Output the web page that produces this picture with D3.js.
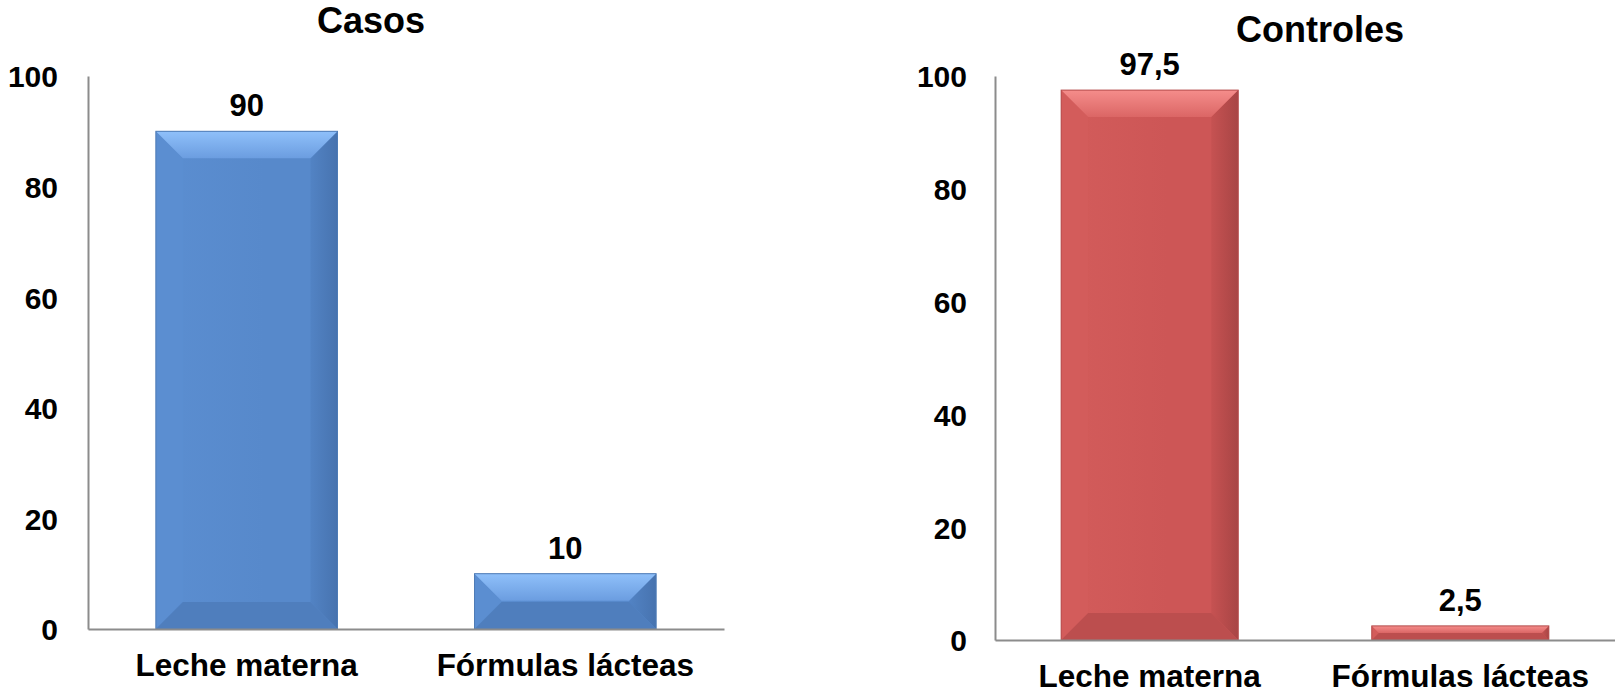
<!DOCTYPE html>
<html>
<head>
<meta charset="utf-8">
<script src="https://cdn.jsdelivr.net/npm/d3@7/dist/d3.min.js"></script>
<style>
  html, body { margin: 0; padding: 0; background: #fff; }
  svg { display: block; }
  text { font-family: "Liberation Sans", Arial, sans-serif; font-weight: bold; fill: #000; }
</style>
</head>
<body>
<script>
// ---- data ----
const categories = ["Leche materna", "Fórmulas lácteas"];
const casosValues = [90, 10];
const controlesValues = [97.5, 2.5];
const yTickValues = [0, 20, 40, 60, 80, 100];
const panelTitles = ["Casos", "Controles"];

const W = 1615, H = 693;
const svg = d3.select("body").append("svg").attr("width", W).attr("height", H);
const defs = svg.append("defs");

const palettes = {
  blue: { main: "#5789cb", top0: "#8fc0fa", top1: "#6b9de0", left: "#5b8ed1", right0: "#5283c4", right1: "#4773af", bottom: "#4f7ebd", stroke: "#4f7cb6" },
  red:  { main: "#cd5656", top0: "#f58d8b", top1: "#db6665", left: "#d35c5b", right0: "#c65252", right1: "#a84545", bottom: "#bc4e4e", stroke: "#b44c4c" }
};
Object.entries(palettes).forEach(([k, p]) => {
  const g = defs.append("linearGradient").attr("id", "top-" + k).attr("x1", 0).attr("y1", 0).attr("x2", 0).attr("y2", 1);
  g.append("stop").attr("offset", "0%").attr("stop-color", p.top0);
  g.append("stop").attr("offset", "100%").attr("stop-color", p.top1);
  const m = defs.append("linearGradient").attr("id", "main-" + k).attr("x1", 0).attr("y1", 0).attr("x2", 1).attr("y2", 0);
  m.append("stop").attr("offset", "0%").attr("stop-color", p.left);
  m.append("stop").attr("offset", "60%").attr("stop-color", p.main);
  m.append("stop").attr("offset", "100%").attr("stop-color", p.main);
  const r = defs.append("linearGradient").attr("id", "right-" + k).attr("x1", 0).attr("y1", 0).attr("x2", 1).attr("y2", 0);
  r.append("stop").attr("offset", "0%").attr("stop-color", p.right0);
  r.append("stop").attr("offset", "100%").attr("stop-color", p.right1);
});

const panels = [
  { title: panelTitles[0], values: casosValues, pal: "blue",
    x0: 88, x1: 724, yTop: 76, yBase: 629, titleX: 371, titleY: 33, tickOff: 30 },
  { title: panelTitles[1], values: controlesValues, pal: "red",
    x0: 995, x1: 1615, yTop: 76, yBase: 640, titleX: 1320, titleY: 42, tickOff: 28 }
];

const fmt = v => String(v).replace(".", ",");

panels.forEach(P => {
  const pal = palettes[P.pal];
  const g = svg.append("g");
  const x = d3.scaleBand().domain(categories).range([P.x0, P.x1]).paddingInner(0.43).paddingOuter(0.213);
  const y = d3.scaleLinear().domain([0, 100]).range([P.yBase, P.yTop]);

  // title
  g.append("text").attr("x", P.titleX).attr("y", P.titleY).attr("text-anchor", "middle")
    .style("font-size", "36px").text(P.title);

  // y axis
  const yAxis = d3.axisLeft(y).tickValues(yTickValues).tickSize(0).tickPadding(P.tickOff).tickFormat(d3.format("d"));
  const ya = g.append("g").attr("transform", `translate(${P.x0},0)`).call(yAxis);
  ya.select(".domain").attr("stroke", "#8c8c8c").attr("stroke-width", 2);
  ya.selectAll("text").style("font-size", "30px").attr("fill", "#000").attr("dy", "0.36em");

  // bars
  const bars = g.selectAll(".bar").data(P.values).enter().append("g");
  bars.each(function(v, i) {
    const bx = x(categories[i]), bw = x.bandwidth();
    const by = y(v), bh = y(0) - y(v);
    const b = Math.min(27, bh / 2, bw / 2);
    const s = d3.select(this);
    s.append("rect").attr("x", bx).attr("y", by).attr("width", bw).attr("height", bh).attr("fill", `url(#main-${P.pal})`);
    // left bevel
    s.append("polygon").attr("points", [[bx, by], [bx + b, by + b], [bx + b, by + bh - b], [bx, by + bh]].join(" "))
      .attr("fill", pal.left);
    // right bevel
    s.append("polygon").attr("points", [[bx + bw, by], [bx + bw - b, by + b], [bx + bw - b, by + bh - b], [bx + bw, by + bh]].join(" "))
      .attr("fill", `url(#right-${P.pal})`);
    // bottom bevel
    s.append("polygon").attr("points", [[bx, by + bh], [bx + b, by + bh - b], [bx + bw - b, by + bh - b], [bx + bw, by + bh]].join(" "))
      .attr("fill", pal.bottom);
    // top bevel
    s.append("polygon").attr("points", [[bx, by], [bx + bw, by], [bx + bw - b, by + b], [bx + b, by + b]].join(" "))
      .attr("fill", `url(#top-${P.pal})`);
    s.append("rect").attr("x", bx).attr("y", by).attr("width", bw).attr("height", bh)
      .attr("fill", "none").attr("stroke", pal.stroke).attr("stroke-width", 1);
    // value label
    s.append("text").attr("x", bx + bw / 2).attr("y", by - 15).attr("text-anchor", "middle")
      .style("font-size", "31px").text(fmt(v));
  });

  // x axis baseline
  const xAxis = d3.axisBottom(x).tickSize(0).tickPadding(25);
  const xa = g.append("g").attr("transform", `translate(0,${P.yBase})`).call(xAxis);
  xa.select(".domain").attr("stroke", "#8c8c8c").attr("stroke-width", 2);
  xa.selectAll("text").style("font-size", "31.5px").attr("fill", "#000");
});
</script>
</body>
</html>
